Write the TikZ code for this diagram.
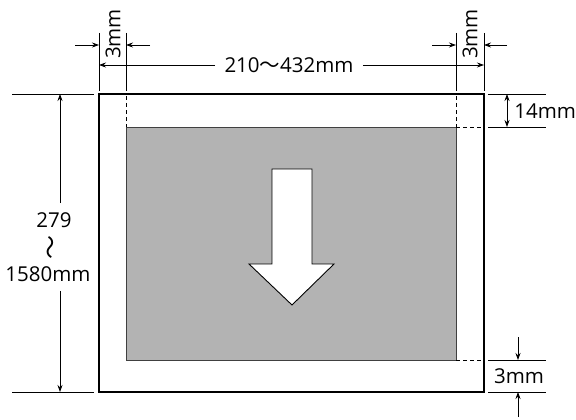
\documentclass[tikz,border=0pt]{standalone}
\usepackage{fontspec}
\setmainfont{Open Sans}
\newfontfamily\cjk{Noto Sans CJK JP}
\usetikzlibrary{arrows.meta, positioning}
\definecolor{areagray}{RGB}{179,179,179}

\begin{document}
\begin{tikzpicture}[x=1pt,y=-1pt,line width=0.8pt,
    dim/.style={-{Stealth[length=7pt,width=5pt]}},
    dimboth/.style={{Stealth[length=7pt,width=5pt]}-{Stealth[length=7pt,width=5pt]}},
    lbl/.style={font=\fontsize{20.5}{22}\selectfont, inner sep=1pt},
    paper/.style={line width=2.6pt},
    printarea/.style={fill=areagray, draw=black!75, line width=0.8pt},
    cut/.style={dash pattern=on 4pt off 3pt}]
    \useasboundingbox (0,0) rectangle (576,420);
    % paper and printable area
    \draw[printarea] (126,127) rectangle (456,360);
    \draw[paper] (99,94) rectangle (484,392);
    \draw[cut] (126,96) -- (126,127);
    \draw[cut] (456,96) -- (456,127);
    \draw[cut] (456,127) -- (484,127);
    \draw[cut] (456,360) -- (484,360);
    \draw[fill=white, line width=0.9pt] (272,169) -- (312,169) -- (312,264) -- (334,264)
        -- (292,305) -- (249,264) -- (272,264) -- cycle;
    % extension lines
    \foreach \x in {99,126,456,484}
        \draw (\x,33) -- (\x,91);
    \foreach \y in {94,392}
        \draw (12,\y) -- (94,\y);
    \foreach \y in {94,127,360,392}
        \draw (488,\y) -- (546,\y);
    % top margins
    \coordinate (lm1) at (99,45);
    \coordinate (lm2) at (126,45);
    \coordinate (rm1) at (456,45);
    \coordinate (rm2) at (484,45);
    \draw[dim] (75,45) -- (lm1);
    \draw[dim] (150,45) -- (lm2);
    \draw[dim] (432,45) -- (rm1);
    \draw[dim] (507,45) -- (rm2);
    \node[lbl, rotate=90] (mleft) at (113,34) {3mm};
    \node[lbl, rotate=90] (mright) at (470,34) {3mm};
    % width
    \node[lbl, inner xsep=9pt] (width) at (289,65) {210{\cjk 〜}432mm};
    \coordinate (wl) at (99,65);
    \coordinate (wr) at (484,65);
    \draw[dim] (width.west) -- (wl);
    \draw[dim] (width.east) -- (wr);
    % length
    \node[lbl, inner ysep=9pt] (lenA) at (54,220) {279};
    \node[rotate=90, font=\fontsize{24}{24}\selectfont\cjk, inner sep=0pt] (lenB) at (53,247) {〜};
    \node[lbl, inner ysep=9pt] (lenC) at (48,274) {1580mm};
    \coordinate (lt) at (60,94);
    \coordinate (lb) at (60,392);
    \draw[dim] (lenA.north -| lt) -- (lt);
    \draw[dim] (lenC.south -| lb) -- (lb);
    % top and bottom margins
    \coordinate (tm1) at (507,94);
    \coordinate (tm2) at (507,127);
    \draw[dimboth] (tm1) -- (tm2);
    \node[lbl, anchor=west] (mtop) at (513,111) {14mm};
    \coordinate (bm1) at (518,360);
    \coordinate (bm2) at (518,392);
    \draw[dim] (518,337) -- (bm1);
    \draw[dim] (518,417) -- (bm2);
    \node[lbl] (mbot) at (519,376) {3mm};
\end{tikzpicture}
\end{document}
